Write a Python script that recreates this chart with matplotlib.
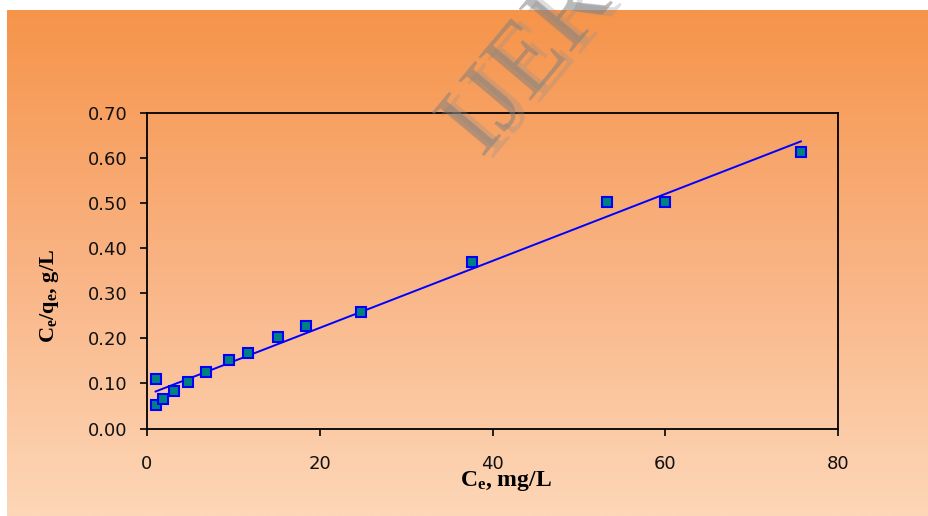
import numpy as np
import matplotlib
matplotlib.use("Agg")
import matplotlib.pyplot as plt
from matplotlib.colors import LinearSegmentedColormap

# Ce (mg/L) vs Ce/qe (g/L)
ce = [1.0, 1.0, 1.85, 3.1, 4.75, 6.8, 9.5, 11.7, 15.2, 18.4, 24.8, 37.6, 53.2, 60.0, 75.7]
ce_qe = [0.110, 0.052, 0.066, 0.083, 0.103, 0.126, 0.152, 0.168, 0.203, 0.226, 0.259, 0.369, 0.502, 0.502, 0.612]

# trend line end points
fit_x = [1.0, 75.7]
fit_y = [0.082, 0.636]

x_ticks = [0, 20, 40, 60, 80]
y_ticks = [0.0, 0.1, 0.2, 0.3, 0.4, 0.5, 0.6, 0.7]

plt.rcParams['mathtext.fontset'] = 'custom'
plt.rcParams['mathtext.rm'] = 'Liberation Serif:bold'
plt.rcParams['mathtext.it'] = 'Liberation Serif:bold'
plt.rcParams['mathtext.bf'] = 'Liberation Serif:bold'
plt.rcParams['mathtext.default'] = 'rm'

fig = plt.figure(figsize=(9.29, 5.16), dpi=100)
fig.patch.set_facecolor('white')

# orange gradient background
bg = fig.add_axes([7 / 929, 0, 1 - 7 / 929, 1 - 10 / 516])
bg.set_axis_off()
cmap = LinearSegmentedColormap.from_list('bg', ['#F6944A', '#F9B383', '#FDD7B8'])
grad = np.linspace(0, 1, 256).reshape(-1, 1)
bg.imshow(grad, aspect='auto', cmap=cmap, extent=[0, 1, 0, 1])

ax = fig.add_axes([147 / 929, 1 - 428.5 / 516, (838 - 147) / 929, (428.5 - 112.5) / 516])
ax.patch.set_alpha(0)

ax.plot(fit_x, fit_y, color='#0000FF', lw=1.4, zorder=2)
ax.plot(ce, ce_qe, ls='none', marker='s', ms=6.5, mfc='#008080', mec='#0000FF', mew=1.5, zorder=3)

ax.set_xlim(0, 80)
ax.set_ylim(0, 0.7)
ax.set_xticks(x_ticks)
ax.set_yticks(y_ticks)
ax.set_yticklabels(['%.2f' % v for v in y_ticks])
for s in ax.spines.values():
    s.set_linewidth(1.3)
    s.set_color('black')
ax.tick_params(axis='both', direction='out', length=5, width=1.3, labelsize=13, colors='#111111')
ax.tick_params(axis='y', pad=9)
ax.tick_params(axis='x', pad=14)
for lab in ax.get_xticklabels() + ax.get_yticklabels():
    lab.set_fontfamily('DejaVu Sans')

ax.set_xlabel(r'$C_e$, mg/L', fontsize=17, fontfamily='Liberation Serif', fontweight='bold')
ax.xaxis.set_label_coords(0.52, -0.127)
ax.set_ylabel(r'$C_e/q_e$, g/L', fontsize=16, fontfamily='Liberation Serif', fontweight='bold')
ax.yaxis.set_label_coords(-0.124, 0.42)

# watermark (two faint copies)
fig.text(0.545, 0.665, 'IJERT', rotation=50, fontsize=74, family='Liberation Serif',
         color='#909090', alpha=0.3, ha='left', va='bottom', rotation_mode='anchor')
fig.text(0.535, 0.67, 'IJERT', rotation=50, fontsize=74, family='Liberation Serif',
         color='#808080', alpha=0.55, ha='left', va='bottom', rotation_mode='anchor')

fig.savefig('out.png', dpi=100)
